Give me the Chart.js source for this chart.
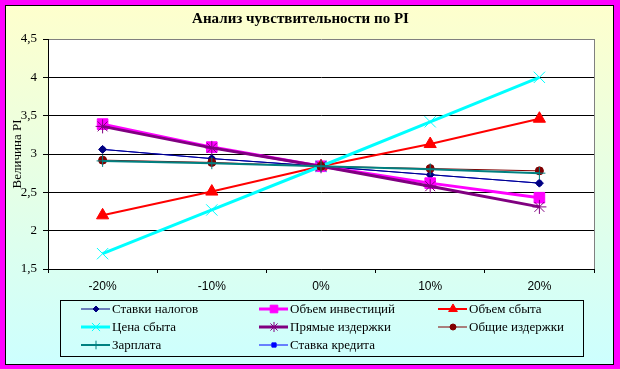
<!DOCTYPE html>
<html>
<head>
<meta charset="utf-8">
<script src="https://cdn.jsdelivr.net/npm/chart.js@4/dist/chart.umd.min.js"></script>
<style>
  html, body { margin: 0; padding: 0; background: #fff; }
  #wrap { width: 620px; height: 369px; }
</style>
</head>
<body>
<div id="wrap"><canvas id="myChart" width="620" height="369"></canvas></div>
<script>
// categories + series
var categories = ['-20%', '-10%', '0%', '10%', '20%'];
var stavkiNalogov    = [3.06, 2.94, 2.84, 2.73, 2.62];
var obemInvesticiy   = [3.39, 3.09, 2.84, 2.62, 2.43];
var obemSbyta        = [2.20, 2.51, 2.84, 3.13, 3.46];
var tsenaSbyta       = [1.70, 2.27, 2.84, 3.42, 4.00];
var pryamyeIzderzhki = [3.36, 3.08, 2.84, 2.58, 2.31];
var obshchieIzderzhki= [2.92, 2.89, 2.84, 2.81, 2.78];
var zarplata         = [2.91, 2.88, 2.84, 2.80, 2.75];
var stavkaKredita    = [3.06, 2.94, 2.84, 2.73, 2.62];

var seriesNames = ['Ставки налогов', 'Объем инвестиций', 'Объем сбыта', 'Цена сбыта',
                   'Прямые издержки', 'Общие издержки', 'Зарплата', 'Ставка кредита'];

function series(i, data, color, width, style, radius, order) {
    return {
        label: seriesNames[i],
        data: data,
        borderColor: color,
        backgroundColor: color,
        borderWidth: width,
        pointStyle: style,
        pointRadius: radius,
        pointBorderColor: color,
        pointBackgroundColor: color,
        pointBorderWidth: 1,
        tension: 0,
        fill: false,
        order: order
    };
}

// background, plot frame and the 3-column legend box
var decor = {
    id: 'decor',
    beforeDraw: function(chart) {
        var c = chart.ctx, a = chart.chartArea;
        var g = c.createLinearGradient(0, 0, 0, chart.height);
        g.addColorStop(0, '#FFFFCC');
        g.addColorStop(1, '#CCFFFF');
        c.save();
        c.fillStyle = g;
        c.fillRect(0, 0, chart.width, chart.height);
        c.fillStyle = '#FF00FF';
        c.fillRect(0, 0, chart.width, 5);
        c.fillRect(0, chart.height - 4, chart.width, 4);
        c.fillRect(0, 0, 5, chart.height);
        c.fillRect(chart.width - 6, 0, 6, chart.height);
        c.strokeStyle = '#000';
        c.lineWidth = 1;
        c.strokeRect(5.5, 5.5, chart.width - 12, chart.height - 10);
        c.fillStyle = '#fff';
        c.fillRect(a.left, a.top, a.right - a.left, a.bottom - a.top);
        c.restore();
    },
    afterDraw: function(chart) {
        var c = chart.ctx, a = chart.chartArea;
        c.save();
        c.strokeStyle = '#808080';
        c.lineWidth = 1;
        c.beginPath();
        c.moveTo(Math.round(a.right) + 0.5, a.top);
        c.lineTo(Math.round(a.right) + 0.5, a.bottom);
        c.stroke();

        c.strokeStyle = '#000';
        c.strokeRect(60.5, 300.5, 523, 56);
        var cols = [81, 259, 438], rows = [309, 327, 345];
        c.font = '13px "Liberation Serif", "Times New Roman", serif';
        c.textBaseline = 'middle';
        chart.data.datasets.forEach(function(ds, i) {
            var x = cols[i % 3], y = rows[Math.floor(i / 3)];
            c.strokeStyle = ds.borderColor;
            c.lineWidth = ds.borderWidth;
            c.beginPath();
            c.moveTo(x, y);
            c.lineTo(x + 29, y);
            c.stroke();
            c.fillStyle = ds.pointBackgroundColor;
            c.strokeStyle = ds.pointBorderColor;
            c.lineWidth = 1;
            Chart.helpers.drawPoint(c, {
                pointStyle: ds.pointStyle, radius: Math.max(3, ds.pointRadius * 0.72),
                rotation: 0, borderWidth: 1
            }, x + 15, y);
            c.fillStyle = '#000';
            c.fillText(ds.label, x + 31, y + 1);
        });
        c.restore();
    }
};

var ctx = document.getElementById('myChart').getContext('2d');
var chart = new Chart(ctx, {
    type: 'line',
    data: {
        labels: categories,
        datasets: [
            series(0, stavkiNalogov, '#000080', 1, 'rectRot', 4, 8),
            series(1, obemInvesticiy, '#FF00FF', 3, 'rect', 7.5, 7),
            series(2, obemSbyta, '#FF0000', 2, 'triangle', 7, 6),
            series(3, tsenaSbyta, '#00FFFF', 3, 'crossRot', 8, 5),
            series(4, pryamyeIzderzhki, '#800080', 3, 'star', 7, 4),
            series(5, obshchieIzderzhki, '#800000', 1, 'circle', 4, 3),
            series(6, zarplata, '#008080', 2, 'cross', 6, 2),
            series(7, stavkaKredita, '#0000FF', 1, 'rect', 3, 9)
        ]
    },
    plugins: [decor],
    options: {
        responsive: false,
        animation: false,
        layout: { padding: { left: 7, right: 26, top: 0, bottom: 70 } },
        plugins: {
            legend: { display: false },
            tooltip: { enabled: false },
            title: {
                display: true,
                text: 'Анализ чувствительности по PI',
                color: '#000',
                font: { family: '"Liberation Serif", "Times New Roman", serif', size: 15, weight: 'bold' },
                padding: { top: 10, bottom: 11 }
            }
        },
        scales: {
            x: {
                offset: true,
                afterFit: function(scale) { scale.height = 30; },
                grid: { offset: true, drawOnChartArea: false, drawTicks: true, tickLength: 4, color: '#000' },
                border: { color: '#000', width: 1 },
                ticks: {
                    color: '#000',
                    padding: 6,
                    maxRotation: 0,
                    font: { family: '"Liberation Sans", Arial, sans-serif', size: 12 }
                }
            },
            y: {
                min: 1.5,
                max: 4.5,
                afterFit: function(scale) { scale.width = 41; },
                title: {
                    display: true,
                    text: 'Величина PI',
                    color: '#000',
                    padding: { top: 3, bottom: 0 },
                    font: { family: '"Liberation Serif", "Times New Roman", serif', size: 13 }
                },
                grid: {
                    color: function(c) { return c.tick && c.tick.value === 4.5 ? '#808080' : '#000'; },
                    tickColor: '#000',
                    tickLength: 5
                },
                border: { color: '#000', width: 1 },
                ticks: {
                    stepSize: 0.5,
                    color: '#000',
                    padding: 6,
                    font: { family: '"Liberation Serif", "Times New Roman", serif', size: 13 },
                    callback: function(v) { return String(v).replace('.', ','); }
                }
            }
        }
    }
});
</script>
</body>
</html>
